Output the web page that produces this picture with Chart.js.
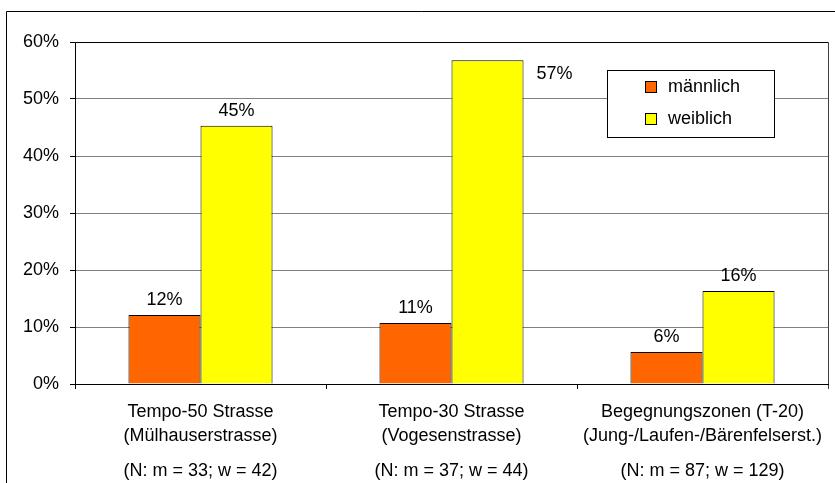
<!DOCTYPE html>
<html>
<head>
<meta charset="utf-8">
<script src="https://cdn.jsdelivr.net/npm/chart.js@4/dist/chart.umd.min.js"></script>
<style>
html,body{margin:0;padding:0;background:#fff;}
#wrap{width:835px;height:483px;position:relative;}
</style>
</head>
<body>
<div id="wrap"><canvas id="c" width="835" height="483"></canvas></div>
<script>
const categories = [
  ["Tempo-50 Strasse", "(Mülhauserstrasse)"],
  ["Tempo-30 Strasse", "(Vogesenstrasse)"],
  ["Begegnungszonen (T-20)", "(Jung-/Laufen-/Bärenfelserst.)"]
];
const sampleNotes = ["(N: m = 33; w = 42)", "(N: m = 37; w = 44)", "(N: m = 87; w = 129)"];
const seriesNames = ["männlich", "weiblich"];
const maleValues = [12.1, 10.7, 5.6];
const femaleValues = [45.3, 56.8, 16.3];
const yTicks = [0, 10, 20, 30, 40, 50, 60];

const FONT = "'Liberation Sans', Arial, sans-serif";
const FS = 18;
Chart.defaults.font.family = FONT;
Chart.defaults.font.size = FS;
Chart.defaults.color = '#000';

const framePlugin = {
  id: 'frame',
  beforeDraw(chart) {
    const ctx = chart.ctx;
    ctx.save();
    ctx.fillStyle = '#fff';
    ctx.fillRect(0, 0, chart.width, chart.height);
    ctx.strokeStyle = '#000';
    ctx.lineWidth = 1;
    ctx.beginPath();
    ctx.moveTo(6.5, chart.height + 2);
    ctx.lineTo(6.5, 11.5);
    ctx.lineTo(chart.width + 2, 11.5);
    ctx.stroke();
    ctx.restore();
  },
  afterDatasetsDraw(chart) {
    const ctx = chart.ctx;
    const a = chart.chartArea;
    ctx.save();
    ctx.strokeStyle = '#000';
    ctx.lineWidth = 1;
    ctx.beginPath();
    ctx.moveTo(Math.round(a.left) + 0.5, Math.round(a.bottom) + 0.5);
    ctx.lineTo(Math.round(a.left) + 0.5, Math.round(a.top) + 0.5);
    ctx.lineTo(Math.round(a.right) + 0.5, Math.round(a.top) + 0.5);
    ctx.stroke();
    ctx.strokeStyle = '#404040';
    ctx.beginPath();
    ctx.moveTo(Math.round(a.right) + 0.5, Math.round(a.top) + 0.5);
    ctx.lineTo(Math.round(a.right) + 0.5, Math.round(a.bottom) + 5);
    ctx.stroke();
    ctx.strokeStyle = '#000';
    ctx.beginPath();
    ctx.moveTo(Math.round(a.left), Math.round(a.bottom) + 0.5);
    ctx.lineTo(Math.round(a.right) + 1, Math.round(a.bottom) + 0.5);
    ctx.stroke();

    // value labels
    ctx.font = FS + 'px ' + FONT;
    ctx.fillStyle = '#000';
    chart.data.datasets.forEach((ds, di) => {
      const meta = chart.getDatasetMeta(di);
      meta.data.forEach((bar, i) => {
        const txt = Math.round(ds.data[i]) + '%';
        const w = bar.width;
        let x = bar.x, y = bar.y - 10;
        ctx.textAlign = 'center';
        ctx.textBaseline = 'alphabetic';
        if (y - 16 < a.top + 2) {
          x = bar.x + w / 2 + 13;
          y = bar.y + 19;
          ctx.textAlign = 'left';
        }
        ctx.fillText(txt, x, y);
      });
    });

    // sample size notes under categories
    const xs = chart.scales.x;
    ctx.textAlign = 'center';
    ctx.textBaseline = 'middle';
    sampleNotes.forEach((t, i) => {
      ctx.fillText(t, xs.getPixelForValue(i), 471);
    });

    // legend box
    const lx = 607, ly = 70, lw = 167, lh = 67;
    ctx.fillStyle = '#fff';
    ctx.fillRect(lx, ly, lw, lh);
    ctx.strokeStyle = '#000';
    ctx.strokeRect(lx + 0.5, ly + 0.5, lw, lh);
    chart.data.datasets.forEach((ds, di) => {
      const cy = 87 + di * 32;
      ctx.fillStyle = ds.backgroundColor;
      ctx.fillRect(645.5, cy - 5.5, 11, 11);
      ctx.strokeStyle = '#000';
      ctx.strokeRect(645.5, cy - 5.5, 11, 11);
      ctx.fillStyle = '#000';
      ctx.textAlign = 'left';
      ctx.textBaseline = 'middle';
      ctx.fillText(ds.label, 668, cy);
    });
    ctx.restore();
  }
};

new Chart(document.getElementById('c'), {
  type: 'bar',
  data: {
    labels: categories,
    datasets: [
      { label: seriesNames[0], data: maleValues, backgroundColor: '#FF6600', borderColor: '#000', borderWidth: 1 },
      { label: seriesNames[1], data: femaleValues, backgroundColor: '#FFFF00', borderColor: '#000', borderWidth: 1 }
    ]
  },
  options: {
    responsive: false,
    animation: false,
    devicePixelRatio: 1,
    layout: { padding: { left: 0, top: 42, right: 7, bottom: 0 } },
    datasets: { bar: { categoryPercentage: 0.574, barPercentage: 1.0 } },
    plugins: { legend: { display: false }, tooltip: { enabled: false } },
    scales: {
      x: {
        offset: true,
        grid: { offset: true, drawOnChartArea: false, drawTicks: true, tickLength: 5, color: '#000' },
        border: { display: false },
        ticks: { padding: 11, maxRotation: 0, autoSkip: false, font: { size: FS, lineHeight: 1.333 }, color: '#000' },
        afterFit(s) { s.height = 99; }
      },
      y: {
        min: 0, max: 60,
        afterBuildTicks(s) { s.ticks = yTicks.map(v => ({ value: v })); },
        grid: { color: '#808080', tickColor: '#000', tickLength: 5 },
        border: { display: false },
        ticks: { padding: 11, callback: v => v + '%', font: { size: FS }, color: '#000' },
        afterFit(s) { s.width = 75; }
      }
    }
  },
  plugins: [framePlugin]
});
</script>
</body>
</html>
